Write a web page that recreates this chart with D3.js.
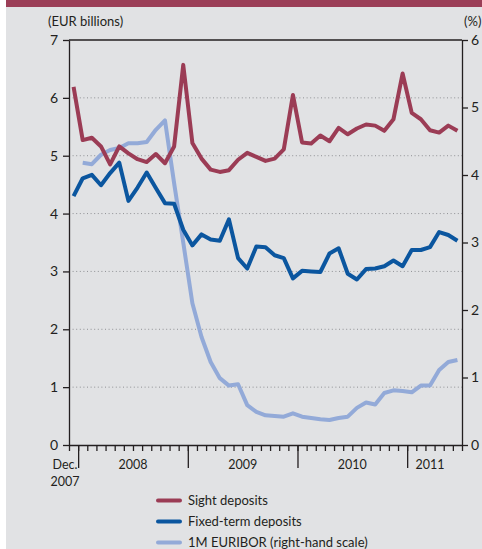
<!DOCTYPE html>
<html>
<head>
<meta charset="utf-8">
<script src="https://cdn.jsdelivr.net/npm/d3@7"></script>
<style>
  body { margin: 0; background: #fff; }
  svg { display: block; }
  text { font-family: Lato, "Open Sans", sans-serif; fill: #231f20; }
</style>
</head>
<body>
<svg></svg>
<script>
// monthly values, Dec 2007 .. Jun 2011
const SIGHT = [6.19, 5.27, 5.31, 5.16, 4.85, 5.16, 5.04, 4.94, 4.89, 5.03, 4.87, 5.16,
  6.57, 5.22, 4.95, 4.76, 4.72, 4.75, 4.93, 5.05, 4.98, 4.91, 4.95, 5.11,
  6.05, 5.23, 5.21, 5.35, 5.25, 5.48, 5.37, 5.47, 5.54, 5.52, 5.43, 5.63,
  6.42, 5.74, 5.63, 5.44, 5.40, 5.52, 5.43];
const FIXED_TERM = [4.30, 4.61, 4.67, 4.49, 4.70, 4.88, 4.22, 4.45, 4.71, 4.44, 4.18, 4.17,
  3.72, 3.45, 3.64, 3.55, 3.53, 3.90, 3.23, 3.05, 3.43, 3.42, 3.28, 3.23,
  2.88, 3.01, 3.00, 2.99, 3.31, 3.40, 2.96, 2.86, 3.04, 3.05, 3.09, 3.19,
  3.09, 3.37, 3.37, 3.42, 3.68, 3.63, 3.53];
const EURIBOR = [null, 4.18, 4.16, 4.30, 4.37, 4.40, 4.47, 4.47, 4.49, 4.67, 4.81, 3.88,
  3.00, 2.10, 1.60, 1.23, 0.99, 0.88, 0.90, 0.59, 0.49, 0.44, 0.43, 0.42,
  0.47, 0.42, 0.40, 0.38, 0.37, 0.40, 0.42, 0.55, 0.63, 0.60, 0.77, 0.81,
  0.80, 0.78, 0.88, 0.88, 1.11, 1.23, 1.26];

const YEAR_LABELS = ['2008', '2009', '2010', '2011'];
const YEAR_STARTS = [1, 13, 25, 37]; // month index where each year begins
const LEFT_TICKS = [0, 1, 2, 3, 4, 5, 6, 7];
const RIGHT_TICKS = [0, 1, 2, 3, 4, 5, 6];
const SERIES = [
  { name: 'Sight deposits', values: SIGHT, axis: 'left', color: '#9b3c55' },
  { name: 'Fixed-term deposits', values: FIXED_TERM, axis: 'left', color: '#0b569f' },
  { name: '1M EURIBOR (right-hand scale)', values: EURIBOR, axis: 'right', color: '#93aad8' },
];

const WIDTH = 482, HEIGHT = 549;
const PLOT = { left: 69, right: 462, top: 40, bottom: 445 };

const svg = d3.select('svg').attr('width', WIDTH).attr('height', HEIGHT);

svg.append('rect').attr('x', 6).attr('y', 0).attr('width', WIDTH - 6).attr('height', HEIGHT).attr('fill', '#e1e2e4');
svg.append('rect').attr('x', 6).attr('y', 0).attr('width', WIDTH - 6).attr('height', 7).attr('fill', '#9b3e57');

const xScale = d3.scaleLinear().domain([0, SIGHT.length]).range([PLOT.left, PLOT.right]);
const yLeft = d3.scaleLinear().domain([0, 7]).range([PLOT.bottom, PLOT.top]);
const yRight = d3.scaleLinear().domain([0, 6]).range([PLOT.bottom, PLOT.top]);

// dotted grid
svg.append('g')
  .selectAll('line')
  .data(LEFT_TICKS.slice(1, -1))
  .enter()
  .append('line')
  .attr('x1', PLOT.left).attr('x2', PLOT.right)
  .attr('y1', d => yLeft(d)).attr('y2', d => yLeft(d))
  .attr('stroke', '#8f9094')
  .attr('stroke-width', 1)
  .attr('stroke-dasharray', '1,2.6');

// lines
const lineFor = (axis) => d3.line()
  .defined(d => d != null)
  .x((d, i) => xScale(i + 0.5))
  .y(d => (axis === 'left' ? yLeft : yRight)(d));

svg.append('g')
  .selectAll('path')
  .data(SERIES.slice().reverse())
  .enter()
  .append('path')
  .attr('d', s => lineFor(s.axis)(s.values))
  .attr('fill', 'none')
  .attr('stroke', s => s.color)
  .attr('stroke-width', 4)
  .attr('stroke-linejoin', 'round');

// frame
svg.append('line')
  .attr('x1', PLOT.left).attr('x2', PLOT.right)
  .attr('y1', PLOT.top).attr('y2', PLOT.top)
  .attr('stroke', '#231f20').attr('stroke-width', 1.3);

const styleAxis = g => {
  g.selectAll('path, line').attr('stroke', '#231f20').attr('stroke-width', 1.3);
  g.selectAll('text').attr('font-size', 14).attr('fill', '#231f20');
};

svg.append('g')
  .attr('transform', `translate(${PLOT.left},0)`)
  .call(d3.axisLeft(yLeft).tickValues(LEFT_TICKS).tickFormat(d3.format('d')).tickSize(6).tickSizeOuter(0).tickPadding(5))
  .call(styleAxis);

svg.append('g')
  .attr('transform', `translate(${PLOT.right},0)`)
  .call(d3.axisRight(yRight).tickValues(RIGHT_TICKS).tickFormat(d3.format('d')).tickSize(6).tickSizeOuter(0).tickPadding(3))
  .call(styleAxis);

// month ticks
svg.append('g')
  .attr('transform', `translate(0,${PLOT.bottom})`)
  .call(d3.axisBottom(xScale).tickValues(d3.range(0, SIGHT.length + 1)).tickSize(6).tickSizeOuter(0).tickFormat(''))
  .call(styleAxis);

// year ticks
svg.append('g')
  .attr('transform', `translate(0,${PLOT.bottom})`)
  .call(d3.axisBottom(xScale).tickValues(YEAR_STARTS).tickSize(23).tickFormat(''))
  .call(g => g.select('.domain').remove())
  .call(styleAxis);

const xLabels = svg.append('g').attr('font-size', 12.5).attr('text-anchor', 'middle');
xLabels.selectAll('text')
  .data(YEAR_LABELS)
  .enter()
  .append('text')
  .attr('x', (d, i) => {
    const end = Math.min(YEAR_STARTS[i] + 12, SIGHT.length - 1);
    return (xScale(YEAR_STARTS[i]) + xScale(end)) / 2;
  })
  .attr('y', 469)
  .text(d => d);
xLabels.append('text').attr('x', 65).attr('y', 469).text('Dec.');
xLabels.append('text').attr('x', 65).attr('y', 486).text('2007');

// axis titles
svg.append('text').attr('x', 48).attr('y', 26).attr('font-size', 13).text('(EUR billions)');
svg.append('text').attr('x', 464).attr('y', 26).attr('font-size', 13).text('(%)');

// legend
const legend = svg.append('g')
  .selectAll('g')
  .data(SERIES)
  .enter()
  .append('g')
  .attr('transform', (d, i) => `translate(158,${500.5 + i * 21})`);

legend.append('line')
  .attr('x1', 0).attr('x2', 22)
  .attr('stroke', d => d.color)
  .attr('stroke-width', 4)
  .attr('stroke-linecap', 'round');

legend.append('text')
  .attr('x', 30).attr('y', 4.5)
  .attr('font-size', 13)
  .text(d => d.name);
</script>
</body>
</html>
